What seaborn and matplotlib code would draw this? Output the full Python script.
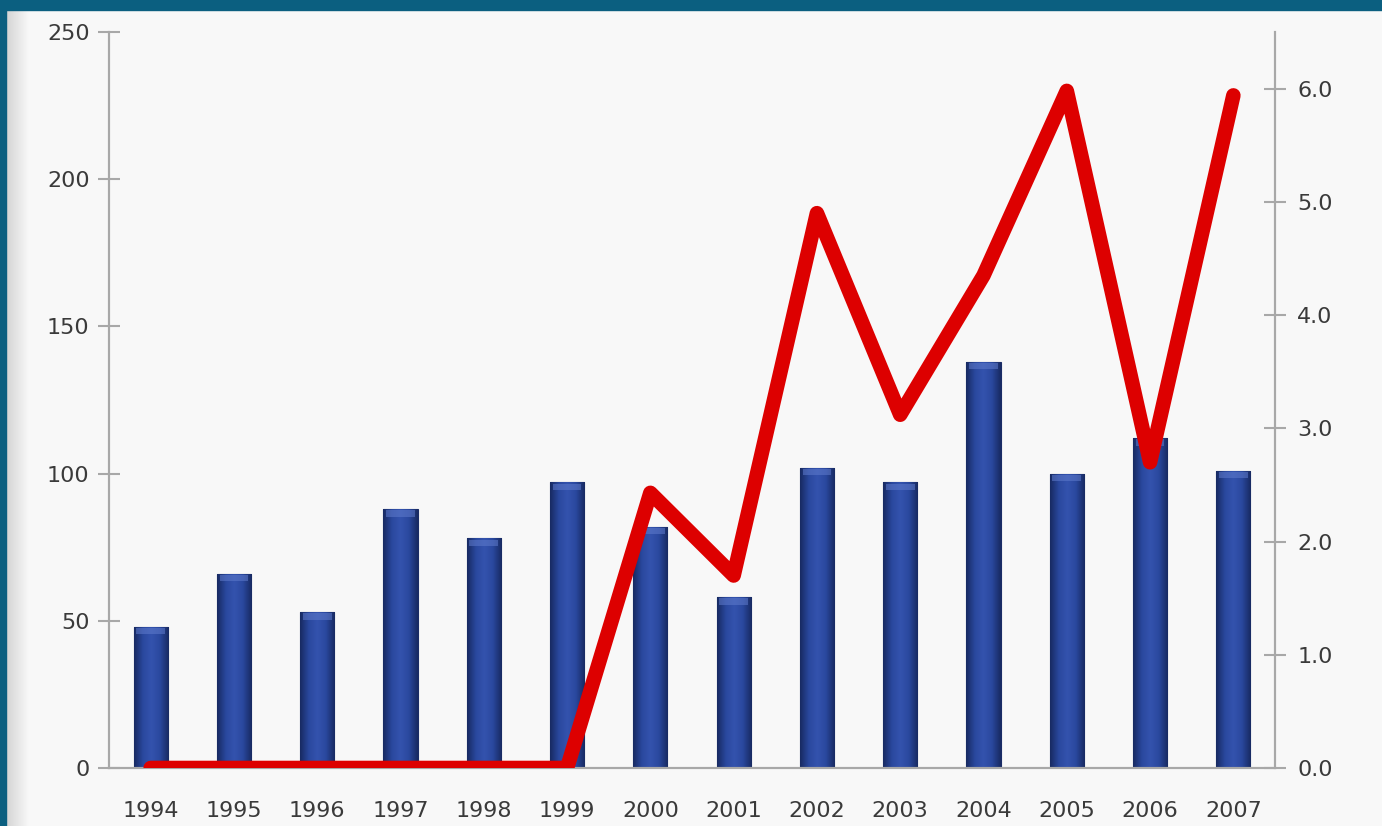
import numpy as np
import pandas as pd
import seaborn as sns
import matplotlib
matplotlib.use("Agg")
import matplotlib.pyplot as plt
from matplotlib.patches import Rectangle
from matplotlib.colors import LinearSegmentedColormap

years = ["1994", "1995", "1996", "1997", "1998", "1999", "2000",
         "2001", "2002", "2003", "2004", "2005", "2006", "2007"]
counts = [48, 66, 53, 88, 78, 97, 82, 58, 102, 97, 138, 100, 112, 101]
rates = [0.0, 0.0, 0.0, 0.0, 0.0, 0.0, 2.43, 1.70, 4.90, 3.12, 4.35, 5.98, 2.70, 5.94]
left_ticks = [0, 50, 100, 150, 200, 250]
right_ticks = [0.0, 1.0, 2.0, 3.0, 4.0, 5.0, 6.0]

df = pd.DataFrame({"year": years, "count": counts, "rate": rates})

sns.set_style("white")
plt.rcParams["font.family"] = ["DejaVu Sans"]

fig = plt.figure(figsize=(13.82, 8.26), dpi=100)
fig.patch.set_facecolor("#f8f8f8")

# shadow on the left of the white panel
shade = fig.add_axes([5 / 1382, 0, 24 / 1382, 1 - 10 / 826], zorder=-1)
shade.imshow(np.linspace(0, 1, 32).reshape(1, -1), aspect="auto",
             cmap=LinearSegmentedColormap.from_list("sh", ["#d2d2d2", "#f8f8f8"]))
shade.axis("off")

# teal frame along top and left edge
fig.add_artist(Rectangle((0, 1 - 10 / 826), 1, 10 / 826, transform=fig.transFigure,
                         color="#0b5f80", zorder=0))
fig.add_artist(Rectangle((0, 0), 6 / 1382, 1, transform=fig.transFigure,
                         color="#0b5f80", zorder=0))

ax = fig.add_axes([109 / 1382, 58 / 826, (1275 - 109) / 1382, (768 - 32) / 826])
ax.set_facecolor("#f8f8f8")

sns.barplot(data=df, x="year", y="count", ax=ax, width=0.41,
            color="#2a4796", edgecolor="#1a2c66", linewidth=0.8, zorder=2)

# horizontal shading inside each bar
cmap = LinearSegmentedColormap.from_list(
    "bar", ["#182a62", "#2a489e", "#3453ae", "#2a489e", "#182a62"])
grad = np.linspace(0, 1, 64).reshape(1, -1)
for p in ax.patches:
    x0, y0 = p.get_x(), p.get_y()
    w, h = p.get_width(), p.get_height()
    im = ax.imshow(grad, cmap=cmap, aspect="auto", extent=(x0, x0 + w, y0, y0 + h),
                   zorder=2.5, interpolation="bicubic")
    im.set_clip_path(p)
    # soft highlight at bar top
    ax.add_patch(Rectangle((x0 + w * 0.08, y0 + h - 2.6), w * 0.84, 2.2,
                           color="#5f7bcc", alpha=0.55, zorder=3, lw=0))

ax.set_ylim(0, 250)
ax.set_xlim(-0.5, len(years) - 0.5)
ax.set_yticks(left_ticks)
ax.set_xticks(np.arange(len(years)))
ax.set_xticklabels(years)
ax.set_xticks(np.arange(len(years) + 1) - 0.5, minor=True)
ax.set_xlabel("")
ax.set_ylabel("")

ax2 = ax.twinx()
sns.pointplot(data=df, x="year", y="rate", ax=ax2, color="#dd0000",
              marker="", linewidth=10.5, errorbar=None)
for ln in ax2.lines:
    ln.set_solid_capstyle("round")
    ln.set_solid_joinstyle("round")
    ln.set_zorder(5)
ax2.set_ylim(0, 6.5)
ax2.set_xlim(-0.5, len(years) - 0.5)
ax2.set_yticks(right_ticks)
ax2.set_yticklabels([f"{v:.1f}" for v in right_ticks])
ax2.set_ylabel("")
ax2.set_xlabel("")

spine_col = "#a8a8a8"
for a in (ax, ax2):
    a.spines["top"].set_visible(False)
    for s in ("left", "right", "bottom"):
        a.spines[s].set_color(spine_col)
        a.spines[s].set_linewidth(1.5)

ax.tick_params(axis="y", direction="inout", length=16, width=1.5, color=spine_col,
               labelsize=16, labelcolor="#3a3a3a", pad=6)
ax.tick_params(axis="x", which="major", length=0, labelsize=16,
               labelcolor="#3a3a3a", pad=24)
ax.tick_params(axis="x", which="minor", direction="inout", length=14, width=1.5,
               color=spine_col)
ax2.tick_params(axis="y", direction="inout", length=16, width=1.5, color=spine_col,
                labelsize=16, labelcolor="#3a3a3a", pad=8)

fig.savefig("out.png", dpi=100, facecolor=fig.get_facecolor())
